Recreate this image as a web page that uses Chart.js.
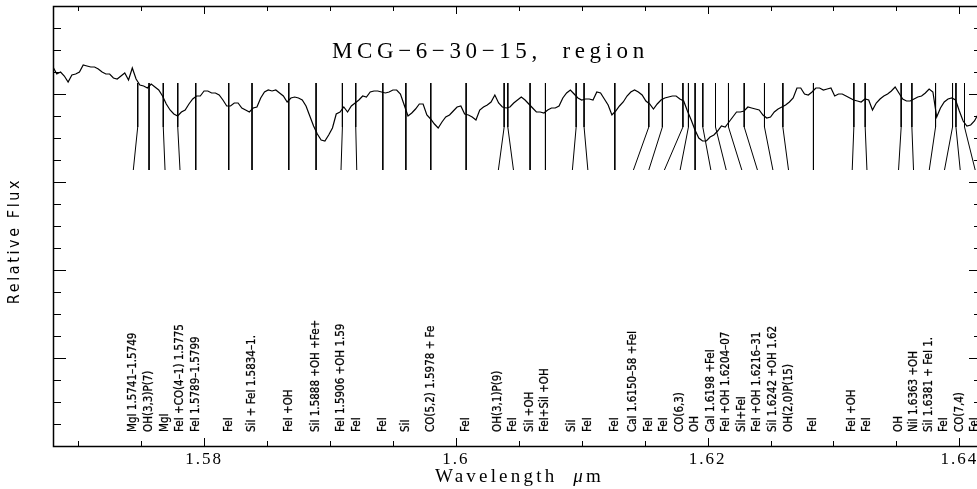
<!DOCTYPE html>
<html>
<head>
<meta charset="utf-8">
<script src="https://cdn.jsdelivr.net/npm/chart.js@4.4.1/dist/chart.umd.min.js"></script>
<style>
  html, body { margin: 0; padding: 0; background: #fff; overflow: hidden; }
  #wrap { position: relative; width: 990px; height: 489px; }
</style>
</head>
<body>
<div id="wrap"><canvas id="spectrum"></canvas></div>
<script>
// wavelength grid (micron) and relative flux
const wavelength = [
  1.5680,1.5683,1.5686,1.5689,1.5692,1.5695,1.5698,1.5701,1.5704,1.5707,
  1.5710,1.5713,1.5716,1.5719,1.5722,1.5725,1.5728,1.5731,1.5734,1.5737,
  1.5740,1.5743,1.5746,1.5749,1.5752,1.5755,1.5758,1.5761,1.5764,1.5767,
  1.5770,1.5773,1.5776,1.5779,1.5782,1.5785,1.5788,1.5791,1.5794,1.5797,
  1.5800,1.5803,1.5806,1.5809,1.5812,1.5815,1.5818,1.5821,1.5824,1.5827,
  1.5830,1.5833,1.5836,1.5839,1.5842,1.5845,1.5848,1.5851,1.5854,1.5857,
  1.5860,1.5863,1.5866,1.5869,1.5872,1.5875,1.5878,1.5881,1.5884,1.5887,
  1.5890,1.5893,1.5896,1.5899,1.5902,1.5905,1.5908,1.5911,1.5914,1.5917,
  1.5920,1.5923,1.5926,1.5929,1.5932,1.5935,1.5938,1.5941,1.5944,1.5947,
  1.5950,1.5953,1.5956,1.5959,1.5962,1.5965,1.5968,1.5971,1.5974,1.5977,
  1.5980,1.5983,1.5986,1.5989,1.5992,1.5995,1.5998,1.6001,1.6004,1.6007,
  1.6010,1.6013,1.6016,1.6019,1.6022,1.6025,1.6028,1.6031,1.6034,1.6037,
  1.6040,1.6043,1.6046,1.6049,1.6052,1.6055,1.6058,1.6061,1.6064,1.6067,
  1.6070,1.6073,1.6076,1.6079,1.6082,1.6085,1.6088,1.6091,1.6094,1.6097,
  1.6100,1.6103,1.6106,1.6109,1.6112,1.6115,1.6118,1.6121,1.6124,1.6127,
  1.6130,1.6133,1.6136,1.6139,1.6142,1.6145,1.6148,1.6151,1.6154,1.6157,
  1.6160,1.6163,1.6166,1.6169,1.6172,1.6175,1.6178,1.6181,1.6184,1.6187,
  1.6190,1.6193,1.6196,1.6199,1.6202,1.6205,1.6208,1.6211,1.6214,1.6217,
  1.6220,1.6223,1.6226,1.6229,1.6232,1.6235,1.6238,1.6241,1.6244,1.6247,
  1.6250,1.6253,1.6256,1.6259,1.6262,1.6265,1.6268,1.6271,1.6274,1.6277,
  1.6280,1.6283,1.6286,1.6289,1.6292,1.6295,1.6298,1.6301,1.6304,1.6307,
  1.6310,1.6313,1.6316,1.6319,1.6322,1.6325,1.6328,1.6331,1.6334,1.6337,
  1.6340,1.6343,1.6346,1.6349,1.6352,1.6355,1.6358,1.6361,1.6364,1.6367,
  1.6370,1.6373,1.6376,1.6379,1.6382,1.6385,1.6388,1.6391,1.6394,1.6397,
  1.6400,1.6403,1.6406,1.6409,1.6412,1.6415,1.6418
];
const flux = [
  3.79,3.72,3.74,3.70,3.64,3.71,3.72,3.74,3.81,3.80,
  3.79,3.79,3.77,3.74,3.72,3.72,3.68,3.67,3.70,3.73,
  3.66,3.78,3.67,3.61,3.60,3.58,3.62,3.59,3.56,3.50,
  3.42,3.36,3.32,3.30,3.34,3.36,3.42,3.47,3.50,3.50,
  3.55,3.55,3.53,3.53,3.51,3.46,3.40,3.40,3.43,3.43,
  3.38,3.36,3.34,3.38,3.39,3.48,3.54,3.56,3.55,3.56,
  3.53,3.50,3.44,3.48,3.49,3.48,3.46,3.40,3.30,3.20,
  3.12,3.06,3.05,3.11,3.18,3.32,3.34,3.39,3.34,3.40,
  3.43,3.46,3.50,3.49,3.54,3.55,3.55,3.54,3.53,3.54,
  3.56,3.56,3.52,3.41,3.30,3.33,3.37,3.42,3.42,3.31,
  3.27,3.22,3.18,3.24,3.29,3.31,3.35,3.39,3.40,3.32,
  3.31,3.29,3.26,3.36,3.39,3.41,3.44,3.51,3.43,3.39,
  3.38,3.39,3.43,3.46,3.49,3.46,3.42,3.38,3.34,3.34,
  3.33,3.36,3.38,3.38,3.40,3.48,3.53,3.56,3.52,3.48,
  3.46,3.47,3.47,3.46,3.54,3.53,3.47,3.41,3.31,3.35,
  3.40,3.44,3.50,3.54,3.56,3.54,3.51,3.45,3.42,3.37,
  3.42,3.46,3.48,3.49,3.50,3.50,3.47,3.45,3.35,3.26,
  3.16,3.08,3.05,3.05,3.09,3.11,3.15,3.20,3.19,3.24,
  3.29,3.34,3.34,3.35,3.39,3.38,3.37,3.36,3.31,3.28,
  3.29,3.34,3.37,3.39,3.41,3.44,3.48,3.58,3.58,3.52,
  3.51,3.54,3.58,3.58,3.56,3.57,3.58,3.50,3.52,3.52,
  3.50,3.48,3.46,3.45,3.44,3.47,3.46,3.36,3.43,3.47,
  3.50,3.52,3.55,3.59,3.53,3.47,3.45,3.45,3.47,3.49,
  3.50,3.53,3.57,3.54,3.29,3.38,3.44,3.47,3.48,3.46,
  3.35,3.25,3.20,3.21,3.25,3.32,3.36
];

// identified features: where the line is, and where its label sits
const lineWave = [
  1.57473,1.57563,1.57676,1.57791,1.57934,1.58196,1.58381,1.58673,1.58890,1.59099,
  1.59205,1.59420,1.59603,1.59801,1.60082,1.60384,1.60413,1.60590,1.60712,1.60956,
  1.61019,1.61263,1.61533,1.61641,1.61804,1.61848,1.61901,1.61962,1.62063,1.62166,
  1.62291,1.62452,1.62598,1.62841,1.63162,1.63252,1.63538,1.63623,1.63811,1.63946,
  1.63973,1.64041
];
const labelWave = [
  1.57438,1.57563,1.57690,1.57809,1.57934,1.58196,1.58381,1.58673,1.58890,1.59088,
  1.59213,1.59420,1.59603,1.59801,1.60082,1.60338,1.60458,1.60590,1.60712,1.60926,
  1.61049,1.61263,1.61411,1.61533,1.61657,1.61782,1.61901,1.62026,1.62148,1.62272,
  1.62396,1.62519,1.62643,1.62841,1.63149,1.63266,1.63517,1.63636,1.63761,1.63882,
  1.64007,1.64126
];
const lineLabels = [
  'MgI 1.5741\u20131.5749', 'OH(3,3)P(7)', 'MgI', 'FeI +CO(4\u20131) 1.5775', 'FeI 1.5789\u20131.5799',
  'FeI', 'SiI + FeI 1.5834\u20131.', 'FeI +OH', 'SiI 1.5888 +OH +Fe+', 'FeI 1.5906 +OH 1.59',
  'FeI', 'FeI', 'SiI', 'CO(5,2) 1.5978 + Fe', 'FeI',
  'OH(3,1)P(9)', 'FeI', 'SiI +OH', 'FeI+SiI +OH', 'SiI',
  'FeI', 'FeI', 'CaI 1.6150\u201358 +FeI', 'FeI', 'FeI',
  'CO(6,3)', 'OH', 'CaI 1.6198 +FeI', 'FeI +OH 1.6204\u201307', 'SiI+FeI',
  'FeI +OH 1.6216\u201331', 'SiI 1.6242 +OH 1.62', 'OH(2,0)P(15)', 'FeI', 'FeI +OH',
  'FeI', 'OH', 'NiI 1.6363 +OH', 'SiI 1.6381 + FeI 1.', 'FeI',
  'CO(7,4)', 'FeI'
];

const xTicks = [1.570,1.575,1.580,1.585,1.590,1.595,1.600,1.605,1.610,1.615,1.620,1.625,1.630,1.635,1.640];
const xTickLabels = ['','','1.58','','','','1.6','','','','1.62','','','','1.64'];
const yTicks = [0,0.22,0.44,0.66,0.88,1.10,1.32,1.54,1.76,1.98,2.20,2.42,2.64,2.86,3.08,3.30,3.52,3.74,3.96,4.18,4.40];

// heights of the identification marks (top of line, bend, foot)
const Y_TOP = 3.63, Y_KNEE = 3.19, Y_FOOT = 2.76;

const spectrumPoints = wavelength.map((w, i) => ({ x: w, y: flux[i] }));
const markerPoints = [];
lineWave.forEach((w, i) => {
  markerPoints.push({ x: w, y: Y_TOP }, { x: w, y: Y_KNEE },
                    { x: labelWave[i], y: Y_FOOT }, { x: labelWave[i], y: null });
});

const condensed = "'DejaVu Sans Condensed', 'Liberation Sans Narrow', 'DejaVu Sans', sans-serif";
const serif = "'Liberation Serif', 'DejaVu Serif', serif";

const decorations = {
  id: 'decorations',
  beforeDraw(chart) { chart.ctx.letterSpacing = '2px'; },
  beforeDatasetsDraw(chart) { chart.ctx.letterSpacing = '0px'; },
  afterDatasetsDraw(chart) {
    const { ctx, chartArea: a, scales: { x, y } } = chart;
    ctx.save();
    ctx.strokeStyle = '#000';
    ctx.fillStyle = '#000';

    // frame
    ctx.lineWidth = 1.5;
    ctx.strokeRect(a.left + 0.5, a.top + 0.5, a.right - a.left, a.bottom - a.top);

    // inward ticks on all four sides
    ctx.lineWidth = 1;
    ctx.beginPath();
    x.ticks.forEach((t, i) => {
      const px = Math.round(x.getPixelForValue(t.value)) + 0.5;
      const len = xTickLabels[i] ? 8 : 5;
      ctx.moveTo(px, a.bottom); ctx.lineTo(px, a.bottom - len);
      ctx.moveTo(px, a.top); ctx.lineTo(px, a.top + len);
    });
    y.ticks.forEach((t, i) => {
      const py = Math.round(y.getPixelForValue(t.value)) + 0.5;
      const len = i % 4 === 0 ? 13 : 8;
      ctx.moveTo(a.left, py); ctx.lineTo(a.left + len, py);
      ctx.moveTo(a.right, py); ctx.lineTo(a.right - len, py);
    });
    ctx.stroke();

    // line identifications, written upwards from the bottom
    ctx.font = '11.5px ' + condensed;
    ctx.textAlign = 'left';
    ctx.textBaseline = 'middle';
    ctx.lineWidth = 0.25;
    lineLabels.forEach((txt, i) => {
      const px = x.getPixelForValue(labelWave[i]);
      ctx.save();
      ctx.translate(px, a.bottom - 14);
      ctx.rotate(-Math.PI / 2);
      ctx.fillText(txt, 0, 0);
      ctx.strokeText(txt, 0, 0);
      ctx.restore();
    });

    // title inside the frame
    ctx.font = '23px ' + serif;
    ctx.letterSpacing = '4.6px';
    ctx.textBaseline = 'alphabetic';
    ctx.fillText('MCG\u22126\u221230\u221215,  region', 332, 58);

    // x axis title, italic mu
    ctx.font = '19px ' + serif;
    ctx.letterSpacing = '3.2px';
    const parts = [['Wavelength  ', ''], ['\u03bc', 'italic '], ['m', '']];
    let total = 0;
    parts.forEach(p => { ctx.font = p[1] + '19px ' + serif; total += ctx.measureText(p[0]).width; });
    let cx = (a.left + a.right) / 2 + 2 - total / 2;
    parts.forEach(p => {
      ctx.font = p[1] + '19px ' + serif;
      ctx.fillText(p[0], cx, 482);
      cx += ctx.measureText(p[0]).width;
    });

    // y axis title
    ctx.font = '16px ' + condensed;
    ctx.letterSpacing = '2.6px';
    ctx.textAlign = 'center';
    ctx.textBaseline = 'middle';
    ctx.translate(15, 241);
    ctx.rotate(-Math.PI / 2);
    ctx.fillText('Relative Flux', 0, 0);
    ctx.restore();
  }
};

new Chart(document.getElementById('spectrum'), {
  type: 'line',
  data: {
    datasets: [
      { label: 'spectrum', data: spectrumPoints, borderColor: '#000', borderWidth: 1.2,
        pointRadius: 0, tension: 0, fill: false },
      { label: 'lines', data: markerPoints, borderColor: '#000', borderWidth: 1,
        pointRadius: 0, tension: 0, fill: false, spanGaps: false }
    ]
  },
  options: {
    responsive: true,
    maintainAspectRatio: false,
    animation: false,
    events: [],
    layout: { padding: { top: 6, right: 8, left: 0, bottom: 0 } },
    plugins: { legend: { display: false }, tooltip: { enabled: false } },
    scales: {
      x: {
        type: 'linear', min: 1.568, max: 1.6418,
        afterBuildTicks: s => { s.ticks = xTicks.map(v => ({ value: v })); },
        afterFit: s => { s.height = 43; },
        grid: { display: false, drawTicks: false },
        border: { display: false },
        ticks: { autoSkip: false, maxRotation: 0, padding: 3, color: '#000',
                 font: { family: serif, size: 17 },
                 callback: (v, i) => xTickLabels[i] }
      },
      y: {
        type: 'linear', min: 0, max: 4.4,
        afterBuildTicks: s => { s.ticks = yTicks.map(v => ({ value: v })); },
        afterFit: s => { s.width = 53; },
        grid: { display: false, drawTicks: false },
        border: { display: false },
        ticks: { display: false }
      }
    }
  },
  plugins: [decorations]
});
</script>
</body>
</html>
